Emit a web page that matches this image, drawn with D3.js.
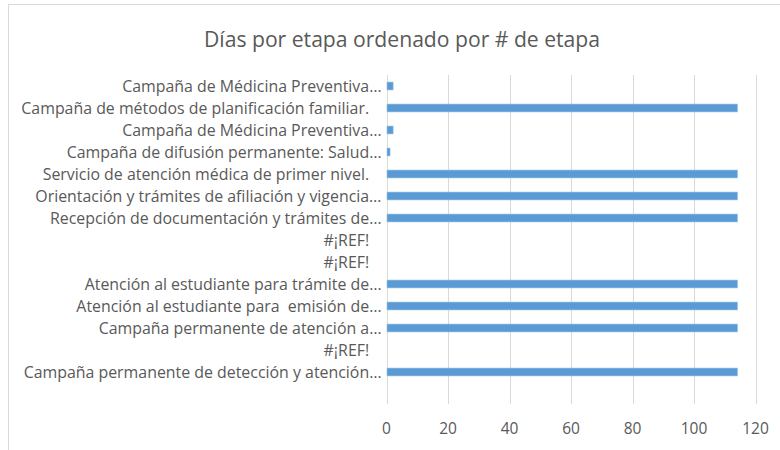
<!DOCTYPE html>
<html>
<head>
<meta charset="utf-8">
<script src="https://cdn.jsdelivr.net/npm/d3@7"></script>
<style>
  body { margin: 0; background: #fff; }
  text { font-family: "Open Sans", sans-serif; fill: #595959; }
</style>
</head>
<body>
<svg id="chart" width="780" height="450"></svg>
<script>
// categories, top to bottom (the last one is blank in the original sheet)
const etapas = [
  "Campaña de Médicina Preventiva…",
  "Campaña de métodos de planificación familiar.   ",
  "Campaña de Médicina Preventiva…",
  "Campaña de difusión permanente: Salud…",
  "Servicio de atención médica de primer nivel.   ",
  "Orientación y trámites de afiliación y vigencia…",
  "Recepción de documentación y trámites de…",
  "#¡REF!   ",
  "#¡REF!   ",
  "Atención al estudiante para trámite de…",
  "Atención al estudiante para  emisión de…",
  "Campaña permanente de atención a…",
  "#¡REF!   ",
  "Campaña permanente de detección y atención…",
  ""
];
const dias = [2, 114, 2, 1, 114, 114, 114, 0, 0, 114, 114, 114, 0, 114, 0];
const ticks = [0, 20, 40, 60, 80, 100, 120];
const titulo = "Días por etapa ordenado por # de etapa";

document.addEventListener("DOMContentLoaded", function () {
  const svg = d3.select("#chart");
  const plot = { left: 386.5, right: 755.5, top: 75, bottom: 405 };

  // chart area border (runs off the right and bottom edges)
  svg.append("rect")
    .attr("x", 8.5).attr("y", 4.5)
    .attr("width", 900).attr("height", 600)
    .attr("fill", "#fff")
    .attr("stroke", "#d9d9d9");

  svg.append("text")
    .attr("x", 402).attr("y", 47)
    .attr("text-anchor", "middle")
    .attr("font-size", 22)
    .attr("textLength", 396)
    .attr("lengthAdjust", "spacingAndGlyphs")
    .text(titulo);

  const x = d3.scaleLinear().domain([0, 120]).range([plot.left, plot.right]);
  const y = d3.scaleBand()
    .domain(d3.range(etapas.length))
    .range([plot.top, plot.bottom])
    .paddingInner(0.64)
    .paddingOuter(0.32);

  // vertical gridlines
  svg.append("g")
    .selectAll("line")
    .data(ticks)
    .join("line")
    .attr("x1", d => Math.round(x(d)) + 0.5)
    .attr("x2", d => Math.round(x(d)) + 0.5)
    .attr("y1", plot.top)
    .attr("y2", plot.bottom - 1)
    .attr("stroke", "#d9d9d9")
    .attr("stroke-width", 1);

  // bars
  svg.append("g")
    .selectAll("rect")
    .data(dias)
    .join("rect")
    .attr("x", x(0) + 0.5)
    .attr("y", (d, i) => y(i))
    .attr("width", d => Math.max(0, x(d) - x(0)))
    .attr("height", y.bandwidth())
    .attr("fill", "#5b9bd5")
    .attr("stroke", "#9dc3e6")
    .attr("stroke-width", 0.6)
    .attr("display", d => d > 0 ? null : "none");

  // category labels
  svg.append("g")
    .selectAll("text")
    .data(etapas)
    .join("text")
    .attr("x", plot.left - 5)
    .attr("y", (d, i) => y(i) + y.bandwidth() / 2)
    .attr("dy", "0.36em")
    .attr("text-anchor", "end")
    .attr("font-size", 15.9)
    .style("white-space", "pre")
    .text(d => d);

  // value axis labels
  svg.append("g")
    .selectAll("text")
    .data(ticks)
    .join("text")
    .attr("x", d => x(d))
    .attr("y", 434)
    .attr("text-anchor", "middle")
    .attr("font-size", 15.5)
    .text(d => d);
});
</script>
</body>
</html>
